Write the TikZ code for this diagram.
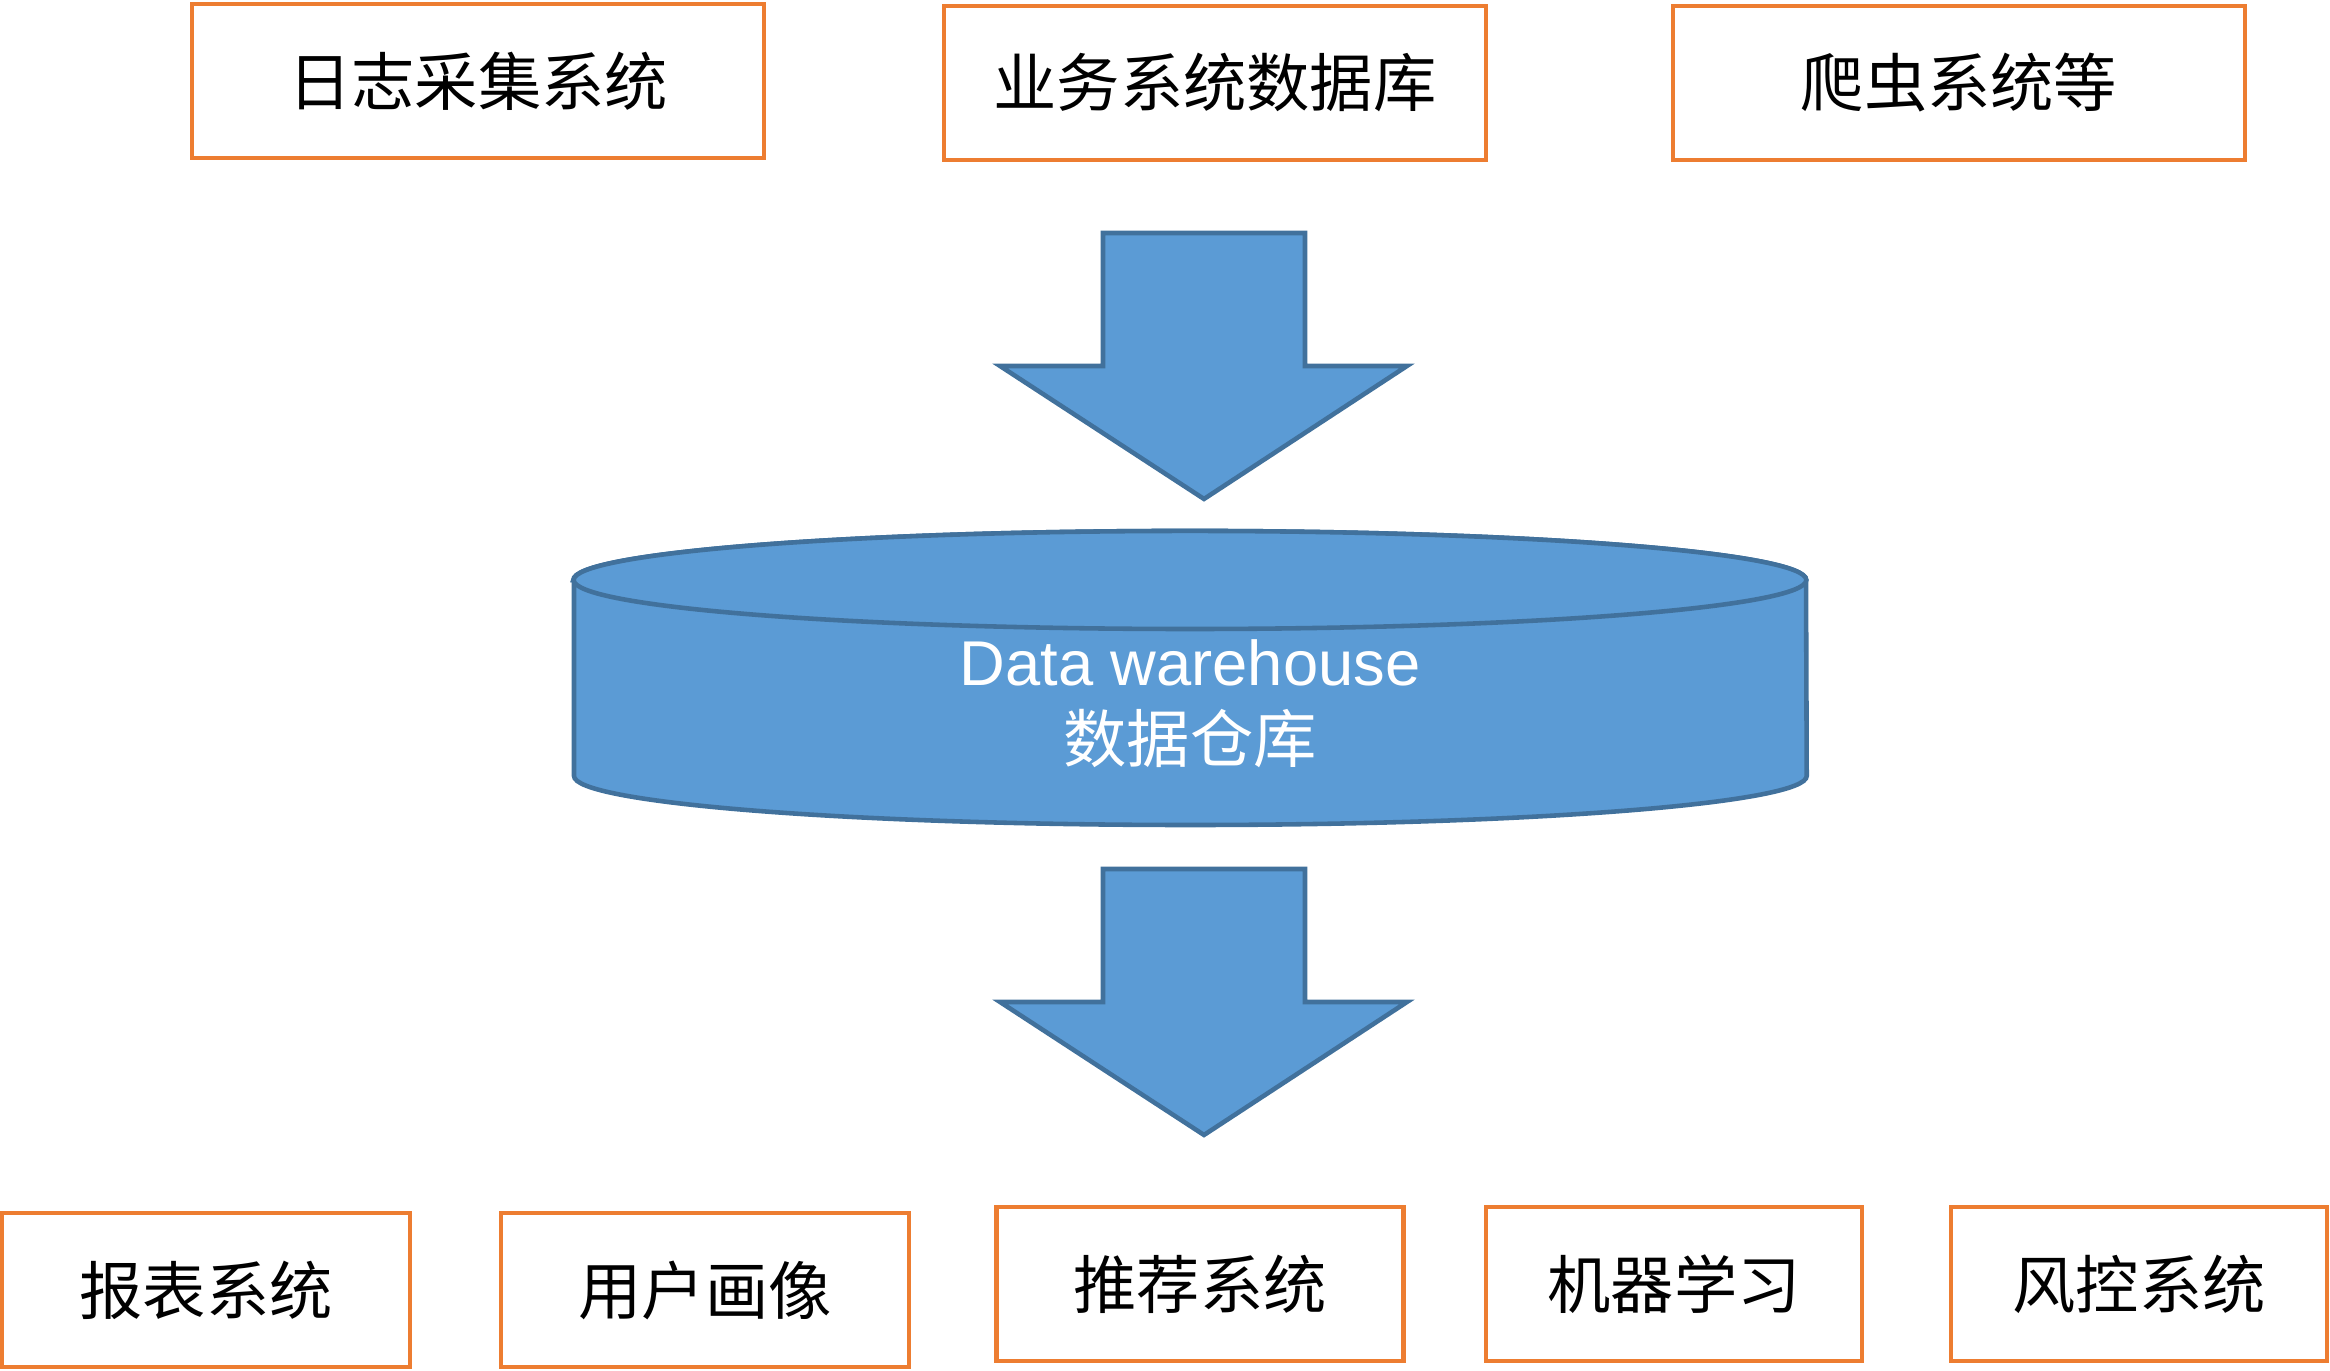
\documentclass[tikz,border=0pt]{standalone}
\usepackage{fontspec}
\setmainfont{Liberation Sans}
\newfontfamily\cjk{Noto Sans CJK SC}
\usepackage{tikz}
\definecolor{myorange}{RGB}{237,125,49}
\definecolor{myblue}{RGB}{91,155,213}
\definecolor{mydarkblue}{RGB}{65,113,156}

\begin{document}
\begin{tikzpicture}[x=0.01cm, y=0.01cm,
    box/.style={draw=myorange, line width=1.3pt, fill=white, inner sep=0pt,
        minimum height=1.54cm, font=\fontsize{18}{22}\selectfont\cjk},
    bluepart/.style={draw=mydarkblue, fill=myblue, line width=1.3pt}]
        \useasboundingbox (0,0) rectangle (2330,1371);

        % sources
        \node[box, minimum width=5.72cm] (L) at (478,1290) {日志采集系统};
        \node[box, minimum width=5.42cm] (Y) at (1215,1288) {业务系统数据库};
        \node[box, minimum width=5.72cm] (P) at (1959,1288) {爬虫系统等};

        % arrow in
        \draw[bluepart] (1103,1138) -- (1305,1138) -- (1305,1005) -- (1407,1005)
            -- (1204,872) -- (1000,1005) -- (1103,1005) -- cycle;

        % warehouse
        \draw[bluepart] (574,791) -- (574,595)
            arc[start angle=180, end angle=360, x radius=6.16cm, y radius=0.49cm]
            -- (1806,791)
            arc[start angle=0, end angle=180, x radius=6.16cm, y radius=0.49cm] -- cycle;
        \draw[bluepart] (1190,791) ellipse[x radius=6.16cm, y radius=0.49cm];
        \node[text=white, align=center, font=\fontsize{18}{22}\selectfont] (DW) at (1190,667)
            {Data warehouse\\{\cjk 数据仓库}};

        % arrow out
        \draw[bluepart] (1103,502) -- (1305,502) -- (1305,369) -- (1407,369)
            -- (1204,236) -- (1000,369) -- (1103,369) -- cycle;

        % applications
        \node[box, minimum width=4.08cm] (R) at (206,81) {报表系统};
        \node[box, minimum width=4.08cm] (U) at (705,81) {用户画像};
        \node[box, minimum width=4.07cm] (T) at (1200,87) {推荐系统};
        \node[box, minimum width=3.76cm] (M) at (1674,87) {机器学习};
        \node[box, minimum width=3.76cm] (F) at (2139,87) {风控系统};
    \end{tikzpicture}
\end{document}
